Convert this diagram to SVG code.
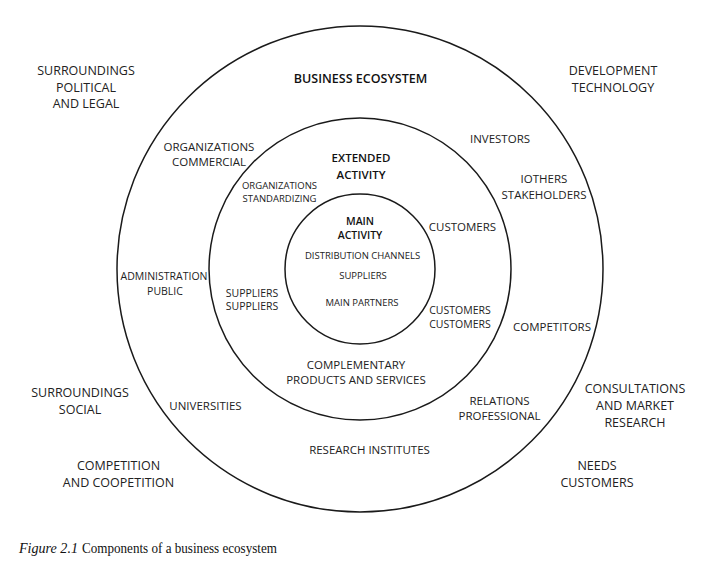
<svg xmlns="http://www.w3.org/2000/svg" width="718" height="568" viewBox="0 0 718 568">
<style>
  .ring { fill: none; stroke: #1a1a1a; stroke-width: 1.5; }
  text { font-family: "Open Sans", "Noto Sans", "DejaVu Sans", sans-serif; fill: #222; text-anchor: middle; }
  .lg { font-size: 12.5px; }
  .md { font-size: 11.5px; }
  .sm { font-size: 10.5px; }
  .xs { font-size: 9.5px; }
  .b { font-weight: 600; fill: #111; }
  .cap { font-family: "Liberation Serif", "Times New Roman", serif; font-size: 15px; text-anchor: start; fill: #111; }
</style>
<rect width="718" height="568" fill="#fff"/>

<g id="rings">
  <circle id="ring-outer" class="ring" cx="360" cy="269" r="243"/>
  <circle id="ring-extended" class="ring" cx="360" cy="269" r="151"/>
  <circle id="ring-main" class="ring" cx="360" cy="269" r="75"/>
</g>
<g id="connectors"></g>

<g id="env-political"><text class="lg" x="86" y="75">SURROUNDINGS</text><text class="lg" x="86" y="92">POLITICAL</text><text class="lg" x="86" y="108">AND LEGAL</text></g>
<g id="env-technology"><text class="lg" x="613" y="75">DEVELOPMENT</text><text class="lg" x="613" y="92">TECHNOLOGY</text></g>
<g id="env-social"><text class="lg" x="80" y="397">SURROUNDINGS</text><text class="lg" x="80" y="414">SOCIAL</text></g>
<g id="env-competition"><text class="lg" x="118.5" y="470">COMPETITION</text><text class="lg" x="118.5" y="487">AND COOPETITION</text></g>
<g id="env-consultations"><text class="lg" x="635" y="393">CONSULTATIONS</text><text class="lg" x="635" y="410">AND MARKET</text><text class="lg" x="635" y="427">RESEARCH</text></g>
<g id="env-needs"><text class="lg" x="597" y="470">NEEDS</text><text class="lg" x="597" y="487">CUSTOMERS</text></g>

<g id="business-ecosystem"><text class="lg b" x="360.5" y="83">BUSINESS ECOSYSTEM</text></g>
<g id="be-commercial"><text class="md" x="209" y="151">ORGANIZATIONS</text><text class="md" x="209" y="166">COMMERCIAL</text></g>
<g id="be-investors"><text class="md" x="500" y="143">INVESTORS</text></g>
<g id="be-stakeholders"><text class="md" x="544" y="183">IOTHERS</text><text class="md" x="544" y="199">STAKEHOLDERS</text></g>
<g id="be-public"><text class="sm" x="164" y="280">ADMINISTRATION</text><text class="sm" x="165" y="295">PUBLIC</text></g>
<g id="be-competitors"><text class="md" x="552" y="331" font-size="11px">COMPETITORS</text></g>
<g id="be-universities"><text class="md" x="205.5" y="410">UNIVERSITIES</text></g>
<g id="be-professional"><text class="md" x="499.5" y="405">RELATIONS</text><text class="md" x="499.5" y="420">PROFESSIONAL</text></g>
<g id="be-research"><text class="md" x="369.5" y="454">RESEARCH INSTITUTES</text></g>

<g id="extended-activity"><text class="b" font-size="11.5px" x="361" y="162">EXTENDED</text><text class="b" font-size="11.5px" x="361" y="179">ACTIVITY</text></g>
<g id="ea-standardizing"><text class="xs" x="279.5" y="189">ORGANIZATIONS</text><text class="xs" x="279.5" y="202">STANDARDIZING</text></g>
<g id="ea-customers"><text class="md" x="462.5" y="231">CUSTOMERS</text></g>
<g id="ea-suppliers"><text class="sm" x="252" y="297">SUPPLIERS</text><text class="sm" x="252" y="310">SUPPLIERS</text></g>
<g id="ea-customers2"><text class="sm" x="460" y="314">CUSTOMERS</text><text class="sm" x="460" y="328">CUSTOMERS</text></g>
<g id="ea-complementary"><text class="md" x="356" y="369">COMPLEMENTARY</text><text class="md" x="356" y="384">PRODUCTS AND SERVICES</text></g>

<g id="main-activity"><text class="sm b" x="360" y="225">MAIN</text><text class="sm b" x="360" y="239">ACTIVITY</text></g>
<g id="ma-distribution"><text class="xs" x="362.5" y="259">DISTRIBUTION CHANNELS</text></g>
<g id="ma-suppliers"><text class="xs" x="363" y="279">SUPPLIERS</text></g>
<g id="ma-partners"><text class="xs" x="362" y="306">MAIN PARTNERS</text></g>

<g id="caption"><text class="cap" x="19" y="553"><tspan font-style="italic" textLength="59" lengthAdjust="spacingAndGlyphs">Figure 2.1</tspan><tspan x="82" textLength="195" lengthAdjust="spacingAndGlyphs">Components of a business ecosystem</tspan></text></g>
</svg>
